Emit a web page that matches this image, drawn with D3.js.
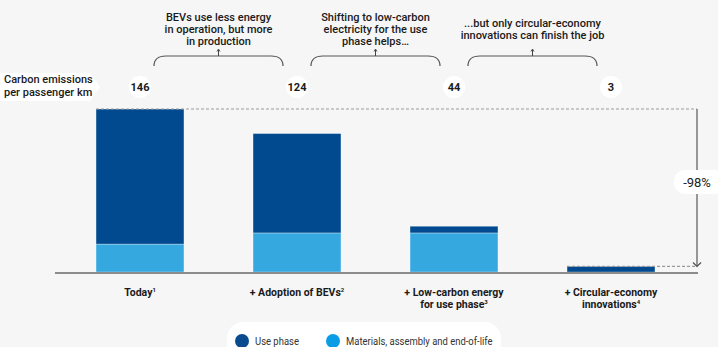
<!DOCTYPE html>
<html>
<head>
<meta charset="utf-8">
<script src="https://cdn.jsdelivr.net/npm/d3@7"></script>
<style>
  html, body { margin: 0; padding: 0; background: #f6f6f6; }
  svg { display: block; font-family: Roboto, "Liberation Sans", Arial, sans-serif; }
</style>
</head>
<body>
<div id="main"></div>
<script>
const width = 718;
const height = 347;

// chart data
const categories = ['Today', '+ Adoption of BEVs', '+ Low-carbon energy for use phase', '+ Circular-economy innovations'];
const categoryLines = [['Today'], ['+ Adoption of BEVs'], ['+ Low-carbon energy', 'for use phase'], ['+ Circular-economy', 'innovations']];
const footnotes = ['1', '2', '3', '4'];
const totals = [146, 124, 44, 3];
const materials = [25, 35, 35, 0];
const usePhase = [121, 89, 6, 5];
const steps = [
  ['BEVs use less energy', 'in operation, but more', 'in production'],
  ['Shifting to low-carbon', 'electricity for the use', 'phase helps…'],
  ['...but only circular-economy', 'innovations can finish the job'],
];
const changeLabel = '-98%';
const seriesNames = ['Use phase', 'Materials, assembly and end-of-life'];
const colors = { use: '#014a8f', mat: '#36a8e0' };

const svg = d3.select('#main').append('svg').attr('width', width).attr('height', height);

const x = d3.scaleBand().domain(categories).range([61.5, 689.5]).paddingInner(0.44).paddingOuter(0.22);
const y = d3.scaleLinear().domain([0, 146]).range([272, 109]);
const cx = (i) => x(categories[i]) + x.bandwidth() / 2;

const rows = categories.map((c, i) => ({ cat: c, mat: materials[i], use: usePhase[i] }));
const stack = d3.stack().keys(['mat', 'use'])(rows);

svg.append('g').selectAll('g')
  .data(stack)
  .enter()
  .append('g')
  .attr('fill', (d) => colors[d.key])
  .selectAll('rect')
  .data((d) => d.filter((p) => p[1] > p[0]))
  .enter()
  .append('rect')
  .attr('x', (d) => x(d.data.cat))
  .attr('y', (d) => y(d[1]))
  .attr('width', x.bandwidth())
  .attr('height', (d) => y(d[0]) - y(d[1]))
  .attr('stroke', 'rgba(255,255,255,0.45)')
  .attr('stroke-width', 0.7);

// baseline
svg.append('line')
  .attr('x1', 55).attr('x2', 698)
  .attr('y1', y(0) + 1).attr('y2', y(0) + 1)
  .attr('stroke', '#8c8c8c').attr('stroke-width', 2);

// reference dashes from first and last bar
const arrowX = 697;
const last = categories.length - 1;
const lastTop = y(materials[last] + usePhase[last]);
svg.append('line')
  .attr('x1', x(categories[0])).attr('x2', arrowX)
  .attr('y1', y(totals[0])).attr('y2', y(totals[0]))
  .attr('stroke', '#9a9a9a').attr('stroke-width', 1.2).attr('stroke-dasharray', '3,2');
svg.append('line')
  .attr('x1', x(categories[last])).attr('x2', arrowX)
  .attr('y1', lastTop).attr('y2', lastTop)
  .attr('stroke', '#9a9a9a').attr('stroke-width', 1.2).attr('stroke-dasharray', '3,2');

svg.append('line')
  .attr('x1', arrowX).attr('x2', arrowX)
  .attr('y1', y(totals[0])).attr('y2', lastTop)
  .attr('stroke', '#777').attr('stroke-width', 1.5);
svg.append('path')
  .attr('d', `M${arrowX - 4},${lastTop - 4}L${arrowX},${lastTop}L${arrowX + 4},${lastTop - 4}`)
  .attr('fill', 'none').attr('stroke', '#555').attr('stroke-width', 1.3);

const midY = 182;
svg.append('rect')
  .attr('x', arrowX - 23).attr('y', midY - 12)
  .attr('width', 52).attr('height', 24).attr('rx', 11)
  .attr('fill', '#fff');
svg.append('text')
  .attr('x', arrowX).attr('y', midY)
  .attr('dy', '0.35em').attr('text-anchor', 'middle')
  .attr('font-size', 13).attr('fill', '#222')
  .text(changeLabel);

// left label
svg.append('path')
  .attr('d', 'M0,73H90L100,87L90,101H0Z')
  .attr('fill', '#fff');
svg.append('text')
  .attr('x', 4).attr('y', 86)
  .attr('font-size', 11).attr('font-weight', 500).attr('fill', '#1a1a1a')
  .selectAll('tspan')
  .data(['Carbon emissions', 'per passenger km'])
  .enter()
  .append('tspan')
  .attr('x', 4)
  .attr('dy', (d, i) => (i === 0 ? '-0.25em' : '1.15em'))
  .text((d) => d);

// totals
const numY = 87;
const totalsG = svg.append('g').selectAll('g')
  .data(totals)
  .enter()
  .append('g')
  .attr('transform', (d, i) => `translate(${cx(i)},${numY})`);
totalsG.append('circle').attr('r', 11).attr('fill', '#fff');
totalsG.append('text')
  .attr('text-anchor', 'middle').attr('dy', '0.35em')
  .attr('font-size', 11).attr('font-weight', 'bold').attr('fill', '#1a1a1a')
  .text((d) => d);

// braces with step annotations
const braceY = 56;
steps.forEach((lines, i) => {
  const x1 = cx(i) + 14;
  const x2 = cx(i + 1) - 14;
  const mid = (x1 + x2) / 2;
  svg.append('path')
    .attr('d', `M${x1},${braceY + 10}Q${x1},${braceY} ${x1 + 12},${braceY}H${x2 - 12}Q${x2},${braceY} ${x2},${braceY + 10}`)
    .attr('fill', 'none').attr('stroke', '#555').attr('stroke-width', 1.2);
  svg.append('line')
    .attr('x1', mid).attr('x2', mid)
    .attr('y1', braceY).attr('y2', braceY - 6)
    .attr('stroke', '#444').attr('stroke-width', 1);
  svg.append('path')
    .attr('d', `M${mid - 1.5},${braceY - 4.5}L${mid},${braceY - 7}L${mid + 1.5},${braceY - 4.5}`)
    .attr('fill', 'none').attr('stroke', '#444').attr('stroke-width', 0.9);
  const top = 28.5 - ((lines.length - 1) * 12) / 2;
  svg.append('text')
    .attr('text-anchor', 'middle')
    .attr('font-size', 11).attr('font-weight', 500).attr('fill', '#1a1a1a')
    .selectAll('tspan')
    .data(lines)
    .enter()
    .append('tspan')
    .attr('x', mid)
    .attr('y', (d, j) => top + j * 12 + 4)
    .text((d) => d);
});

// category labels
categoryLines.forEach((lines, i) => {
  const t = svg.append('text')
    .attr('text-anchor', 'middle')
    .attr('font-size', 10.5).attr('font-weight', 'bold').attr('fill', '#1a1a1a');
  lines.forEach((line, j) => {
    t.append('tspan').attr('x', cx(i)).attr('y', 296 + j * 12).text(line);
    if (j === lines.length - 1) {
      t.append('tspan').attr('dy', -4).attr('font-size', 6).text(footnotes[i]);
    }
  });
});

// legend
const legend = svg.append('g');
legend.append('rect')
  .attr('x', 227).attr('y', 322).attr('width', 274).attr('height', 44).attr('rx', 16)
  .attr('fill', '#fff');
const legendX = [242, 333];
const legendColors = ['#0a4a8f', '#0a9de6'];
seriesNames.forEach((name, i) => {
  legend.append('circle').attr('cx', legendX[i]).attr('cy', 341).attr('r', 7).attr('fill', legendColors[i]);
  legend.append('text')
    .attr('transform', `translate(${legendX[i] + 13},341) scale(0.86,1)`)
    .attr('dy', '0.35em')
    .attr('font-size', 11).attr('fill', '#333')
    .text(name);
});
</script>
</body>
</html>
